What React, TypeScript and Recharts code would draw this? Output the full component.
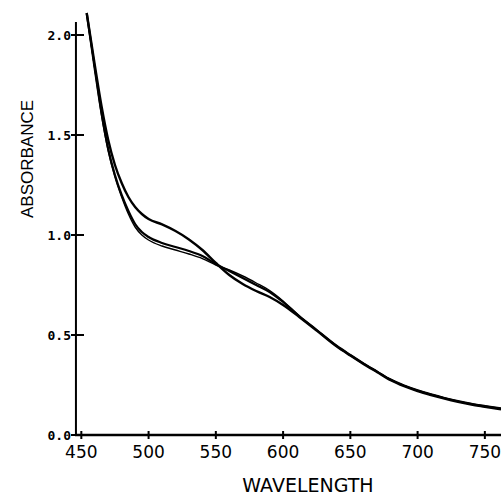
import React from "react";
import { LineChart, Line, XAxis, YAxis, ReferenceLine } from "recharts";

// wavelength grid (nm) shared by the three spectra
const wavelengths = [
  454, 460, 465, 470, 475, 480, 485, 490, 495, 500, 510, 520, 530, 540, 550, 560, 570, 580,
  590, 600, 612, 625, 640, 650, 660, 670, 680, 690, 700, 710, 720, 730, 740, 750, 762,
];

// upper shoulder before the isosbestic point
const specA = [
  2.11, 1.85, 1.645, 1.475, 1.35, 1.26, 1.19, 1.14, 1.105, 1.08, 1.053, 1.02, 0.978, 0.925, 0.86,
  0.8, 0.755, 0.72, 0.69, 0.65, 0.59, 0.522, 0.442, 0.397, 0.354, 0.314, 0.274, 0.244, 0.22,
  0.2, 0.182, 0.166, 0.152, 0.141, 0.128,
];

const specB = [
  2.11, 1.83, 1.61, 1.43, 1.3, 1.2, 1.12, 1.055, 1.015, 0.99, 0.96, 0.94, 0.92, 0.895, 0.855,
  0.82, 0.785, 0.75, 0.715, 0.665, 0.595, 0.525, 0.445, 0.4, 0.357, 0.317, 0.277, 0.247, 0.223,
  0.203, 0.185, 0.169, 0.156, 0.145, 0.133,
];

const specC = [
  2.11, 1.83, 1.6, 1.42, 1.29, 1.19, 1.105, 1.04, 1.0, 0.975, 0.945, 0.925, 0.905, 0.882, 0.85,
  0.825, 0.795, 0.76, 0.722, 0.67, 0.595, 0.525, 0.445, 0.4, 0.357, 0.317, 0.277, 0.247, 0.223,
  0.203, 0.185, 0.169, 0.156, 0.145, 0.133,
];

const xTicks = [450, 500, 550, 600, 650, 700, 750];
const yTicks = [0, 0.5, 1.0, 1.5, 2.0];

const data = wavelengths.map((w, i) => ({ w, a: specA[i], b: specB[i], c: specC[i] }));

const AXIS_X = 76;
const AXIS_Y = 435;

function YTick(props: any) {
  const { y, payload } = props;
  return (
    <g>
      <line x1={AXIS_X - 5} x2={AXIS_X + 8} y1={y} y2={y} stroke="#000" strokeWidth={2} />
      <text
        x={AXIS_X - 5}
        y={y}
        textAnchor="end"
        dominantBaseline="central"
        fontFamily="DejaVu Sans Mono"
        fontWeight="bold"
        fontSize={13}
        fill="#000"
      >
        {Number(payload.value).toFixed(1)}
      </text>
    </g>
  );
}

function XTick(props: any) {
  const { x, payload } = props;
  return (
    <g>
      <line x1={x} x2={x} y1={AXIS_Y - 4} y2={AXIS_Y + 4} stroke="#000" strokeWidth={2} />
      <text
        x={x}
        y={AXIS_Y + 17}
        textAnchor="middle"
        dominantBaseline="central"
        fontFamily="DejaVu Sans"
        fontSize={17}
        fill="#000"
      >
        {payload.value}
      </text>
    </g>
  );
}

export default function App() {
  return (
    <div style={{ position: "absolute", left: 0, top: 0, width: 501, height: 495, background: "#fff" }}>
      <LineChart
        width={501}
        height={495}
        data={data}
        margin={{ top: 0, right: 0, bottom: 0, left: 0 }}
      >
        <XAxis
          type="number"
          dataKey="w"
          domain={[445.3, 762]}
          ticks={xTicks}
          allowDataOverflow
          axisLine={{ stroke: "#000", strokeWidth: 2.5 }}
          tickLine={false}
          tick={<XTick />}
          height={60}
        />
        <YAxis
          type="number"
          domain={[0, 2.175]}
          ticks={yTicks}
          allowDataOverflow
          axisLine={false}
          tickLine={false}
          tick={<YTick />}
          width={75}
        />
        <ReferenceLine
          segment={[
            { x: 446, y: 0 },
            { x: 446, y: 2.065 },
          ]}
          stroke="#000"
          strokeWidth={2}
        />
        <Line type="monotone" dataKey="a" stroke="#000" strokeWidth={2.4} dot={false} isAnimationActive={false} />
        <Line type="monotone" dataKey="b" stroke="#000" strokeWidth={2.2} dot={false} isAnimationActive={false} />
        <Line type="monotone" dataKey="c" stroke="#000" strokeWidth={1.4} dot={false} isAnimationActive={false} />
      </LineChart>
      <div
        style={{
          position: "absolute",
          left: 27,
          top: 159,
          transform: "translate(-50%, -50%) rotate(-90deg)",
          fontFamily: "Liberation Sans",
          fontSize: 17,
          lineHeight: 1,
          whiteSpace: "nowrap",
          color: "#000",
        }}
      >
        ABSORBANCE
      </div>
      <div
        style={{
          position: "absolute",
          left: 308,
          top: 485,
          transform: "translate(-50%, -50%)",
          fontFamily: "DejaVu Sans",
          fontSize: 19,
          lineHeight: 1,
          whiteSpace: "nowrap",
          color: "#000",
        }}
      >
        WAVELENGTH
      </div>
    </div>
  );
}
